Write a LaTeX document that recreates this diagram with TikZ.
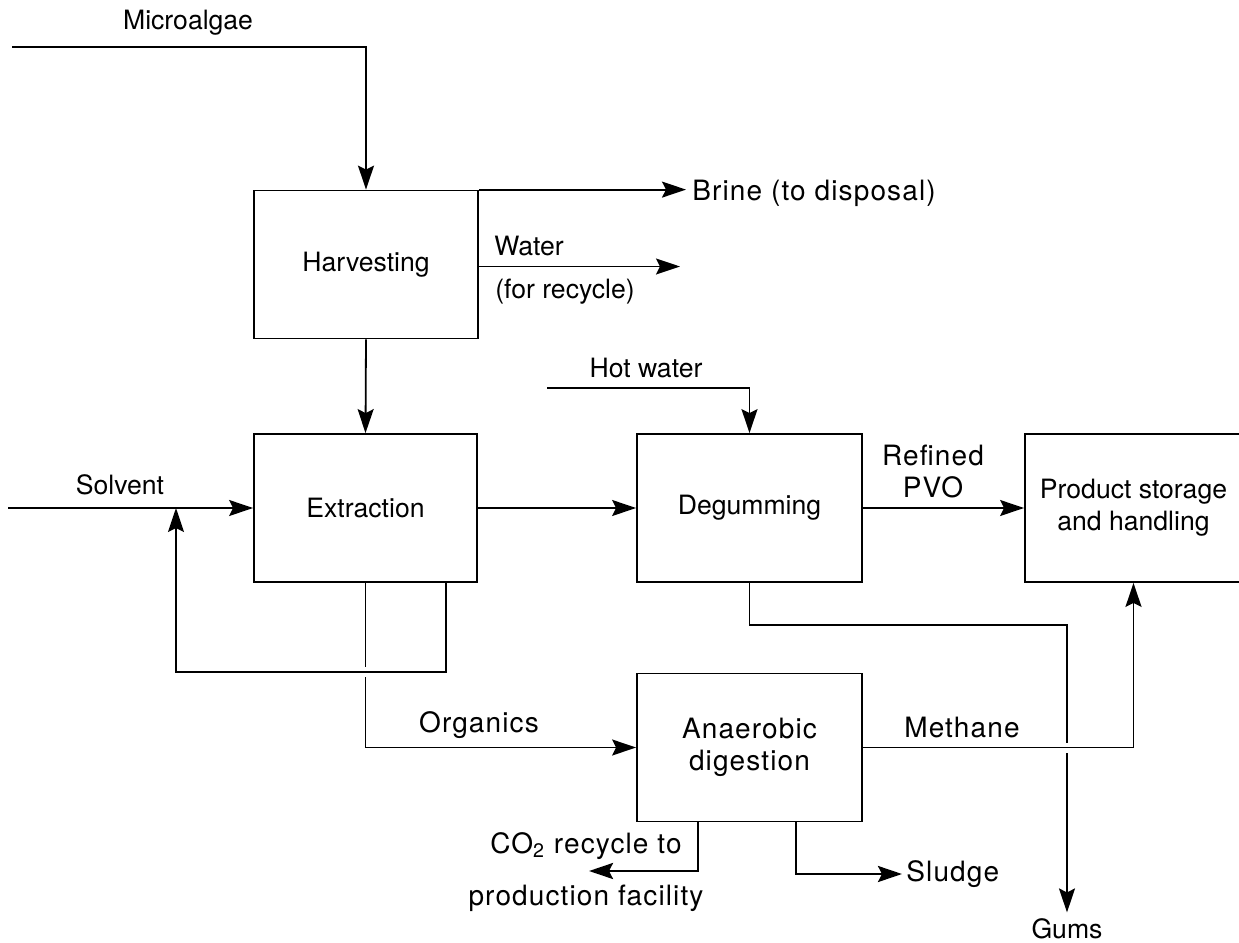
\documentclass[tikz,border=0pt]{standalone}
\usepackage{fontspec}
\setmainfont{TeX Gyre Heros}
\newfontfamily\lightface[LetterSpace=4]{TeX Gyre Heros}
\usetikzlibrary{arrows.meta,calc}
\tikzset{
  flow/.style={-{Stealth[length=12pt,width=8pt,inset=2pt]},line width=0.9pt},
  flowbold/.style={flow,line width=1.3pt},
  bridge/.style={preaction={draw=white,line width=5pt,-,shorten <=18pt,shorten >=18pt}},
  unit/.style={draw,line width=0.9pt,minimum width=112pt,minimum height=74pt,
               inner sep=0pt,font=\fontsize{13.3}{16}\selectfont,align=center},
  tag/.style={font=\fontsize{13.3}{16}\selectfont,inner sep=2pt,align=center},
  thintag/.style={font=\lightface\fontsize{14}{16}\selectfont,inner sep=2pt,align=center},
}

\begin{document}
\begin{tikzpicture}[x=0.5pt,y=-0.5pt]
  \useasboundingbox (0,0) rectangle (1239,943);

  \node[unit] (harvest) at (366,264.5) {Harvesting};
  \node[unit,minimum width=111.5pt] (extract) at (365.5,508) {Extraction};
  \node[unit,minimum width=112.5pt] (degum) at (749.5,508) {Degumming};
  \node[unit,minimum width=108.5pt] (store) at (1133.5,508) {Product storage\\and handling};
  \node[unit,minimum width=112.5pt,font=\lightface\fontsize{14}{16}\selectfont] (digest) at (749.5,747.5) {Anaerobic\\digestion};

  \node[tag] (algae) at (188,23) {Microalgae};
  \node[thintag,anchor=west,inner sep=3pt] (brine) at (686,193) {Brine (to disposal)};
  \node[tag] (water) at (529,246) {Water};
  \node[tag] (recycle) at (565,292) {(for recycle)};
  \node[tag] (solvent) at (120,485) {Solvent};
  \node[tag] (hot) at (646,368) {Hot water};
  \node[thintag] (pvo) at (933,471) {Refined\\PVO};
  \node[thintag] (organics) at (479,725) {Organics};
  \node[thintag] (methane) at (962,727) {Methane};
  \node[thintag] (co2a) at (586,846) {CO\textsubscript{2} recycle to};
  \node[thintag] (co2b) at (586,898) {production facility};
  \node[thintag,anchor=west] (sludge) at (902,874) {Sludge};
  \node[tag,inner sep=3pt] (gums) at (1067,929) {Gums};

  \coordinate (algaein) at (12,47);
  \coordinate (waterout) at (680,266.5);
  \coordinate (solventin) at (8,508);
  \coordinate (mix) at (176,508);
  \coordinate (loopbot) at (446,672);
  \coordinate (hotin) at (547,388);
  \coordinate (gumsturn) at (1067,625);
  \coordinate (co2end) at (589,871);

  \draw[flow] (algaein) -| (harvest.north);
  \draw[flow] (harvest.north east) -- (harvest.north east -| brine.west);
  \draw[flow] ([yshift=-1pt]harvest.east) -- (waterout);
  \draw[flow] (harvest.south) -- (extract.north);
  \draw[flow] (solventin) -- (extract.west);
  \draw[flow] (extract.south) |- (digest.west);
  \draw[flow,bridge] (extract.south -| loopbot) |- (mix |- loopbot) -- (mix);
  \draw[flow] (extract.east) -- (degum.west);
  \draw[flow] (hotin) -| (degum.north);
  \draw[flow] (degum.east) -- (store.west);
  \draw[flow] (degum.south) |- (gumsturn) -- (gums.north);
  \draw[flow,bridge] (digest.east) -| (store.south);
  \draw[flowbold] ([xshift=-25.75pt]digest.south) |- (co2end);
  \draw[flowbold] ([xshift=23.25pt]digest.south) |- (sludge.west);
\end{tikzpicture}
\end{document}
